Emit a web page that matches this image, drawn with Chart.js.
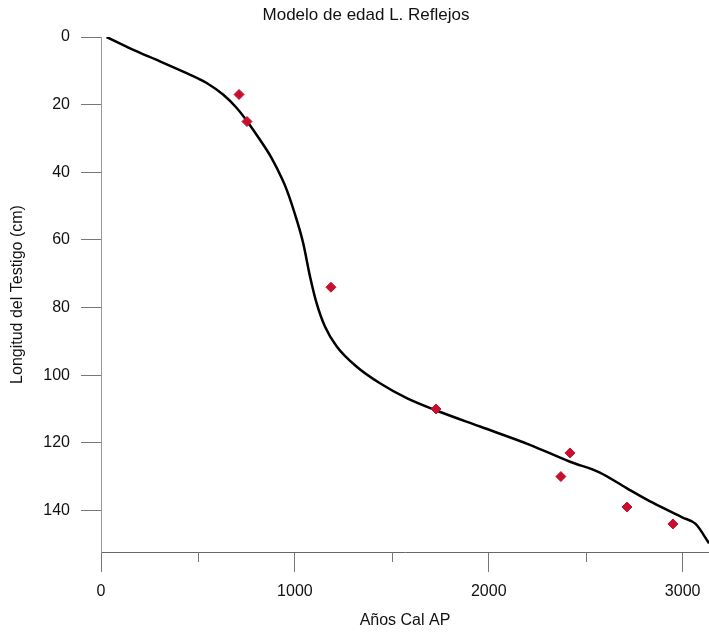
<!DOCTYPE html>
<html>
<head>
<meta charset="utf-8">
<script src="https://cdn.jsdelivr.net/npm/chart.js@4/dist/chart.umd.min.js"></script>
<style>
  html, body { margin: 0; padding: 0; background: #fff; }
  #wrap { width: 709px; height: 632px; }
</style>
</head>
<body>
<div id="wrap"><canvas id="edadChart"></canvas></div>
<script>
// Modelo de edad (curva) - años cal AP vs profundidad (cm)
const curvaAnios = [29, 167, 304, 442, 545, 631, 700, 760, 820, 880, 932, 958, 1009, 1043, 1078, 1112, 1155, 1216, 1319, 1439, 1577, 1723, 1955, 2212, 2419, 2573, 2711, 2848, 3000, 3067, 3136];
const curvaProf  = [0, 3.8, 7.2, 10.7, 13.6, 17.1, 21, 25.4, 30.4, 35.8, 41.7, 45.2, 54, 61, 70.8, 78.7, 85.6, 91.5, 97.5, 102.4, 106.8, 110.3, 115.2, 120.6, 125.6, 128.8, 133.4, 137.8, 142.1, 144, 149.7];

// Dataciones (puntos rojos)
const fechasAnios = [712, 753, 1186, 1728, 2419, 2372, 2713, 2950];
const fechasProf  = [17, 25, 74, 110, 123, 130, 139, 144];

// Etiquetas de ejes
const tituloGrafico = 'Modelo de edad L. Reflejos';
const tituloX = 'Años Cal AP';
const tituloY = 'Longitud del Testigo (cm)';
const ticksX = [0, 1000, 2000, 3000];
const ticksMenoresX = [500, 1500, 2500];
const ticksY = [0, 20, 40, 60, 80, 100, 120, 140];

const fuente = { family: '"Liberation Sans", Arial, sans-serif', size: 16 };

// Título dibujado a mano (un poco desplazado del centro, como en el original)
const tituloPlugin = {
    id: 'tituloPlugin',
    afterDraw(chart) {
        const ctx = chart.ctx;
        ctx.save();
        ctx.font = '17px "Liberation Sans", Arial, sans-serif';
        ctx.fillStyle = '#111';
        ctx.textAlign = 'center';
        ctx.textBaseline = 'middle';
        ctx.fillText(tituloGrafico, 366, 15);
        ctx.restore();
    }
};

// Marcas menores del eje X
const menoresPlugin = {
    id: 'menoresPlugin',
    afterDraw(chart) {
        const ctx = chart.ctx;
        const x = chart.scales.x;
        const base = chart.chartArea.bottom;
        ctx.save();
        ctx.strokeStyle = '#777';
        ctx.lineWidth = 1;
        ticksMenoresX.forEach(v => {
            const px = Math.round(x.getPixelForValue(v)) + 0.5;
            ctx.beginPath();
            ctx.moveTo(px, base);
            ctx.lineTo(px, base + 10);
            ctx.stroke();
        });
        ctx.restore();
    }
};

const ctx = document.getElementById('edadChart').getContext('2d');
new Chart(ctx, {
    type: 'scatter',
    data: {
        datasets: [
            {
                label: 'Dataciones',
                data: fechasAnios.map((a, i) => ({ x: a, y: fechasProf[i] })),
                pointStyle: 'rectRot',
                pointRadius: 5,
                pointBackgroundColor: '#c8102e',
                pointBorderColor: '#c8102e',
                pointBorderWidth: 1,
                order: 0
            },
            {
                label: 'Modelo',
                data: curvaAnios.map((a, i) => ({ x: a, y: curvaProf[i] })),
                showLine: true,
                borderColor: '#000',
                borderWidth: 2.5,
                pointRadius: 0,
                cubicInterpolationMode: 'monotone',
                order: 1
            }
        ]
    },
    options: {
        responsive: true,
        maintainAspectRatio: false,
        animation: false,
        layout: { autoPadding: false, padding: { top: 37, left: 0, right: 0, bottom: 0 } },
        plugins: {
            legend: { display: false },
            title: { display: false },
            tooltip: { enabled: false }
        },
        scales: {
            x: {
                type: 'linear',
                min: 0,
                max: 3136,
                afterFit: s => { s.height = 80; s.paddingLeft = 0; s.paddingRight = 0; },
                afterBuildTicks: s => { s.ticks = ticksX.map(v => ({ value: v })); },
                ticks: {
                    padding: 10,
                    color: '#111',
                    font: fuente,
                    maxRotation: 0,
                    autoSkip: false,
                    callback: v => String(v)
                },
                grid: {
                    drawOnChartArea: false,
                    tickLength: 20,
                    tickColor: '#777'
                },
                border: { color: '#666', width: 1 },
                title: {
                    display: true,
                    text: tituloX,
                    color: '#111',
                    font: fuente,
                    padding: { top: 0, bottom: 2 }
                }
            },
            y: {
                type: 'linear',
                reverse: true,
                min: 0,
                max: 152.3,
                afterFit: s => { s.width = 101; s.paddingTop = 0; s.paddingBottom = 0; },
                afterBuildTicks: s => { s.ticks = ticksY.map(v => ({ value: v })); },
                ticks: {
                    padding: 11,
                    color: '#111',
                    font: fuente,
                    autoSkip: false,
                    callback: v => String(v)
                },
                grid: {
                    drawOnChartArea: false,
                    tickLength: 20,
                    tickColor: '#777'
                },
                border: { color: '#999', width: 1 },
                title: {
                    display: true,
                    text: tituloY,
                    color: '#111',
                    font: fuente,
                    padding: { top: 8, bottom: 0 }
                }
            }
        }
    },
    plugins: [tituloPlugin, menoresPlugin]
});
</script>
</body>
</html>
